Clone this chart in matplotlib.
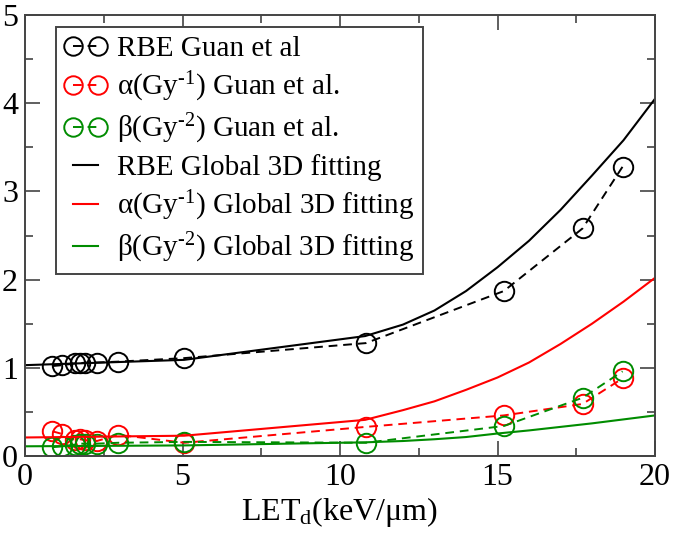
import matplotlib
matplotlib.use("Agg")
import matplotlib.pyplot as plt
from matplotlib.ticker import MultipleLocator

plt.rcParams['font.family'] = ['Liberation Serif', 'DejaVu Serif']
plt.rcParams['mathtext.fontset'] = 'custom'
plt.rcParams['mathtext.rm'] = 'Liberation Serif'
plt.rcParams['mathtext.it'] = 'Liberation Serif:italic'

# measured points (Guan et al)
let_data = [0.87, 1.18, 1.59, 1.75, 1.9, 2.28, 2.96, 5.06, 10.82, 15.2, 17.7, 18.97]
rbe_data = [1.02, 1.03, 1.05, 1.05, 1.06, 1.06, 1.07, 1.11, 1.28, 1.87, 2.58, 3.28]
alpha_data = [0.28, 0.25, 0.18, 0.19, 0.18, 0.17, 0.24, 0.15, 0.33, 0.46, 0.59, 0.88]
beta_data = [0.10, 0.11, 0.13, 0.14, 0.14, 0.14, 0.15, 0.16, 0.15, 0.34, 0.66, 0.96]

# global 3D fitting curves
let_fit = [0, 5.05, 10.8, 12, 13, 14, 15, 16, 17, 18, 19, 20]
rbe_fit = [1.03, 1.09, 1.36, 1.49, 1.65, 1.87, 2.14, 2.44, 2.79, 3.18, 3.58, 4.05]
alpha_fit = [0.21, 0.23, 0.41, 0.52, 0.62, 0.75, 0.89, 1.06, 1.27, 1.50, 1.75, 2.02]
beta_fit = [0.11, 0.12, 0.155, 0.17, 0.19, 0.215, 0.255, 0.29, 0.33, 0.37, 0.415, 0.46]

green = '#008c00'
dash = (0, (4.5, 3))

fig = plt.figure(figsize=(6.75, 5.33), dpi=100)
ax = fig.add_axes([25/675, 77/533, 630/675, 441/533])

mk = dict(marker='o', markersize=14, markerfacecolor='none', markeredgewidth=1.4, lw=1.4, ls=dash)
ax.plot(let_data, rbe_data, color='black', label='RBE Guan et al', **mk)
ax.plot(let_data, alpha_data, color='red', label=r'α(Gy$^{\text{-1}}$) Guan et al.', **mk)
ax.plot(let_data, beta_data, color=green, label=r'β(Gy$^{\text{-2}}$) Guan et al.', **mk)

ax.plot(let_fit, rbe_fit, color='black', lw=1.5, label='RBE Global 3D fitting')
ax.plot(let_fit, alpha_fit, color='red', lw=1.5, label=r'α(Gy$^{\text{-1}}$) Global 3D fitting')
ax.plot(let_fit, beta_fit, color=green, lw=1.5, label=r'β(Gy$^{\text{-2}}$) Global 3D fitting')

ax.set_xlim(0, 20)
ax.set_ylim(0, 5)
ax.xaxis.set_major_locator(MultipleLocator(5))
ax.xaxis.set_minor_locator(MultipleLocator(2.5))
ax.yaxis.set_major_locator(MultipleLocator(1))
ax.yaxis.set_minor_locator(MultipleLocator(0.5))
ax.tick_params(which='both', direction='in', top=True, right=True, color='#444444', width=1.2)
ax.tick_params(which='major', length=11, labelsize=23, pad=5)
ax.tick_params(which='minor', length=6)
for s in ax.spines.values():
    s.set_linewidth(1.4)
    s.set_color('#444444')

ax.set_xlabel(r'LET$_{\mathrm{d}}$(keV/μm)', fontsize=23, labelpad=2)

leg = ax.legend(loc='upper left', bbox_to_anchor=(0.049, 0.973), borderaxespad=0,
                fontsize=21, numpoints=2, markerscale=0.95, handlelength=1.46,
                handletextpad=0.33, borderpad=0.3, labelspacing=0.27,
                fancybox=False, framealpha=1, edgecolor='#444444')
leg.get_frame().set_linewidth(1.4)

fig.savefig('out.png', dpi=100)
